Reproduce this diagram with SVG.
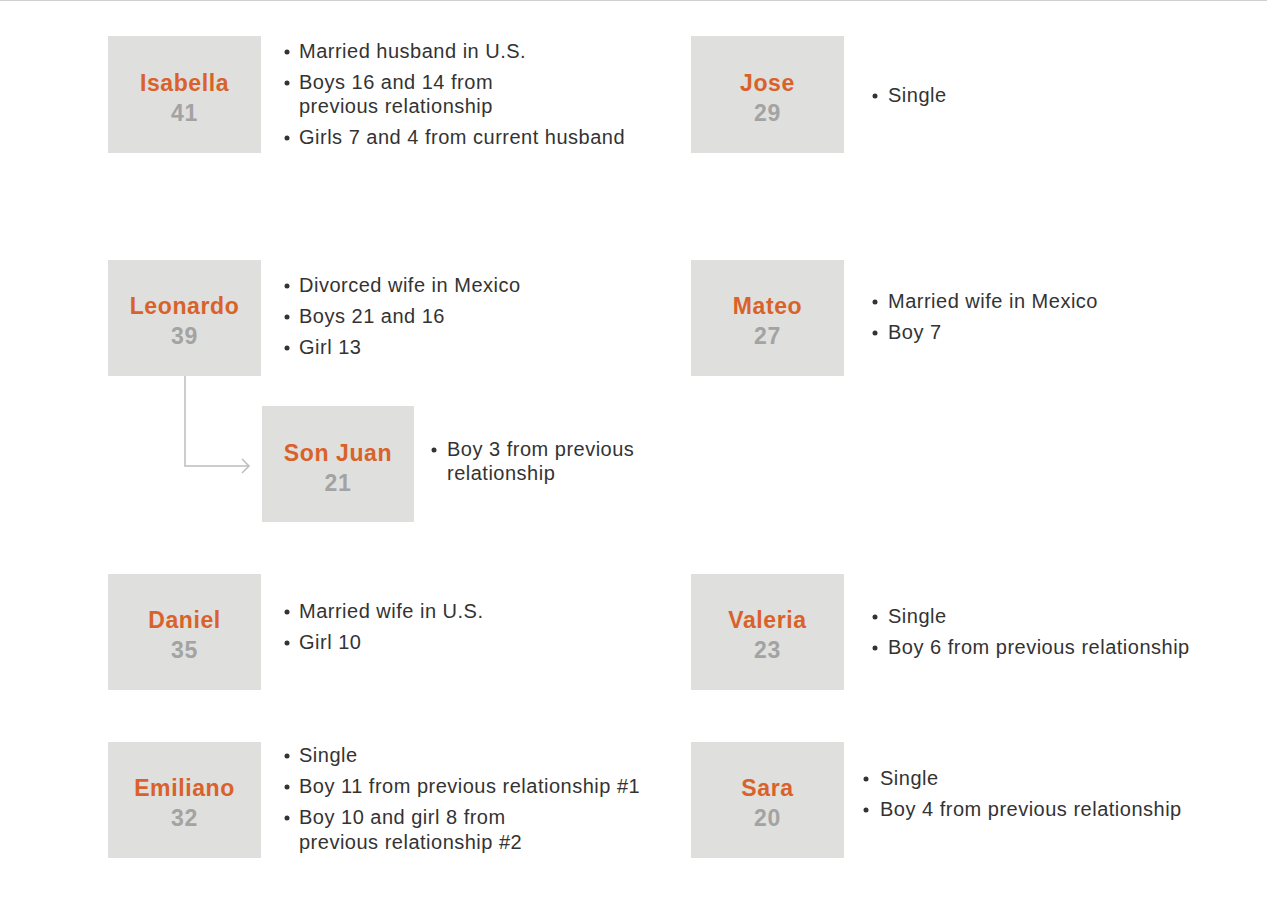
<svg xmlns="http://www.w3.org/2000/svg" width="1267" height="907" viewBox="0 0 1267 907">
<style>
.box{fill:#dfdfdd}
.nm{font-family:"Liberation Sans",Arial,sans-serif;font-weight:bold;font-size:23px;letter-spacing:0.6px;fill:#d9622b;text-anchor:middle}
.ag{font-family:"Liberation Sans",Arial,sans-serif;font-weight:bold;font-size:23px;letter-spacing:0.6px;fill:#a3a3a3;text-anchor:middle}
.tx{font-family:"Liberation Sans",Arial,sans-serif;font-size:20px;letter-spacing:0.5px;fill:#333}
.bl{fill:#333}
.cn{fill:none;stroke:#bdbdbd;stroke-width:1.5}
</style>
<rect x="0" y="0" width="1267" height="907" fill="#fff"/>
<line x1="0" y1="0.5" x2="1267" y2="0.5" stroke="#d0d0d0" stroke-width="1"/>
<g id="connectors">
<path class="cn" d="M185,376 V466 H249"/>
<path class="cn" d="M242,459 L249,466 L242,473"/>
</g>
<g id="isabella">
<rect class="box" x="108" y="36" width="153" height="117"/>
<text class="nm" x="184.5" y="91">Isabella</text>
<text class="ag" x="184.5" y="121">41</text>
<circle class="bl" cx="287" cy="52" r="2.5"/><text class="tx" x="299" y="58">Married husband in U.S.</text>
<circle class="bl" cx="287" cy="83" r="2.5"/><text class="tx" x="299" y="89">Boys 16 and 14 from</text>
<text class="tx" x="299" y="113">previous relationship</text>
<circle class="bl" cx="287" cy="138" r="2.5"/><text class="tx" x="299" y="144">Girls 7 and 4 from current husband</text>
</g>
<g id="jose">
<rect class="box" x="691" y="36" width="153" height="117"/>
<text class="nm" x="767.5" y="91">Jose</text>
<text class="ag" x="767.5" y="121">29</text>
<circle class="bl" cx="875" cy="96" r="2.5"/><text class="tx" x="888" y="102">Single</text>
</g>
<g id="leonardo">
<rect class="box" x="108" y="260" width="153" height="116"/>
<text class="nm" x="184.5" y="314">Leonardo</text>
<text class="ag" x="184.5" y="344">39</text>
<circle class="bl" cx="287" cy="286" r="2.5"/><text class="tx" x="299" y="292">Divorced wife in Mexico</text>
<circle class="bl" cx="287" cy="317" r="2.5"/><text class="tx" x="299" y="323">Boys 21 and 16</text>
<circle class="bl" cx="287" cy="348" r="2.5"/><text class="tx" x="299" y="354">Girl 13</text>
</g>
<g id="mateo">
<rect class="box" x="691" y="260" width="153" height="116"/>
<text class="nm" x="767.5" y="314">Mateo</text>
<text class="ag" x="767.5" y="344">27</text>
<circle class="bl" cx="875" cy="302" r="2.5"/><text class="tx" x="888" y="308">Married wife in Mexico</text>
<circle class="bl" cx="875" cy="333" r="2.5"/><text class="tx" x="888" y="339">Boy 7</text>
</g>
<g id="sonjuan">
<rect class="box" x="262" y="406" width="152" height="116"/>
<text class="nm" x="338" y="461">Son Juan</text>
<text class="ag" x="338" y="491">21</text>
<circle class="bl" cx="434" cy="450" r="2.5"/><text class="tx" x="447" y="456">Boy 3 from previous</text>
<text class="tx" x="447" y="480">relationship</text>
</g>
<g id="daniel">
<rect class="box" x="108" y="574" width="153" height="116"/>
<text class="nm" x="184.5" y="628">Daniel</text>
<text class="ag" x="184.5" y="658">35</text>
<circle class="bl" cx="287" cy="612" r="2.5"/><text class="tx" x="299" y="618">Married wife in U.S.</text>
<circle class="bl" cx="287" cy="643" r="2.5"/><text class="tx" x="299" y="649">Girl 10</text>
</g>
<g id="valeria">
<rect class="box" x="691" y="574" width="153" height="116"/>
<text class="nm" x="767.5" y="628">Valeria</text>
<text class="ag" x="767.5" y="658">23</text>
<circle class="bl" cx="875" cy="617" r="2.5"/><text class="tx" x="888" y="623">Single</text>
<circle class="bl" cx="875" cy="648" r="2.5"/><text class="tx" x="888" y="654">Boy 6 from previous relationship</text>
</g>
<g id="emiliano">
<rect class="box" x="108" y="742" width="153" height="116"/>
<text class="nm" x="184.5" y="796">Emiliano</text>
<text class="ag" x="184.5" y="826">32</text>
<circle class="bl" cx="287" cy="756" r="2.5"/><text class="tx" x="299" y="762">Single</text>
<circle class="bl" cx="287" cy="787" r="2.5"/><text class="tx" x="299" y="793">Boy 11 from previous relationship #1</text>
<circle class="bl" cx="287" cy="818" r="2.5"/><text class="tx" x="299" y="824">Boy 10 and girl 8 from</text>
<text class="tx" x="299" y="849">previous relationship #2</text>
</g>
<g id="sara">
<rect class="box" x="691" y="742" width="153" height="116"/>
<text class="nm" x="767.5" y="796">Sara</text>
<text class="ag" x="767.5" y="826">20</text>
<circle class="bl" cx="866" cy="779" r="2.5"/><text class="tx" x="880" y="785">Single</text>
<circle class="bl" cx="866" cy="810" r="2.5"/><text class="tx" x="880" y="816">Boy 4 from previous relationship</text>
</g>
</svg>
